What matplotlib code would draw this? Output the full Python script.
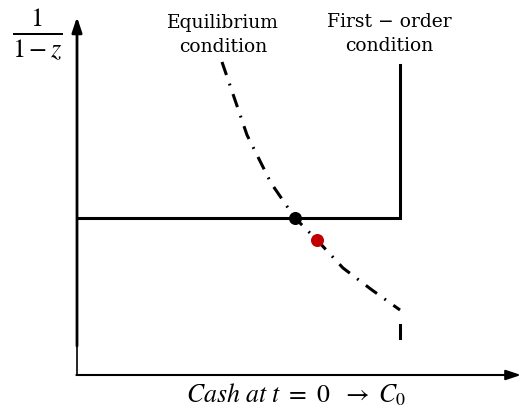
import numpy as np
import matplotlib.pyplot as plt

plt.rcParams['mathtext.fontset'] = 'stix'

# equilibrium condition curve (dash-dot)
eq_x = [145, 170, 194, 218, 240, 266, 295, 323]
eq_y = [313, 240, 192, 157, 135, 107, 85, 65]
# short dash below the curve end
tail_x = [323, 323]
tail_y = [50, 37]

# first-order condition (step)
foc_x = [0, 323, 323]
foc_y = [157, 157, 310]

# points
eq_pt = (218, 157)
red_pt = (240, 135)

fig = plt.figure(figsize=(5.22, 4.09), dpi=100)
ax = fig.add_axes([0, 0, 1, 1])
ax.set_xlim(-77, 445)
ax.set_ylim(-34, 375)
ax.axis('off')

# axes with arrows
ax.plot([0, 0], [0, 30], color='k', lw=1.2, solid_capstyle='butt')
ax.annotate('', xy=(0, 358), xytext=(0, 29),
            arrowprops=dict(arrowstyle='-|>,head_width=0.3,head_length=0.9',
                            lw=2.0, color='k', shrinkA=0, shrinkB=0))
ax.annotate('', xy=(444, 0), xytext=(-0.6, 0),
            arrowprops=dict(arrowstyle='-|>,head_width=0.3,head_length=0.9',
                            lw=1.5, color='k', shrinkA=0, shrinkB=0))

ax.plot(foc_x, foc_y, color='k', lw=2.2, solid_joinstyle='miter')
ax.plot(eq_x, eq_y, color='k', lw=2.2, dashes=(4.5, 3, 0.6, 3))
ax.plot(tail_x, tail_y, color='k', lw=2.2)

ax.scatter([eq_pt[0]], [eq_pt[1]], s=70, color='k', zorder=5)
ax.scatter([red_pt[0]], [red_pt[1]], s=70, color='#c00000', zorder=5)

ax.text(146, 340, 'Equilibrium\ncondition', ha='center', va='center',
        family='DejaVu Serif', fontsize=13.5, linespacing=1.45)
ax.text(312, 341, 'First \u2212 order\ncondition', ha='center', va='center',
        family='DejaVu Serif', fontsize=13.5, linespacing=1.45)
ax.text(-40, 340, r'$\frac{1}{1-z}$', ha='center', va='center', fontsize=27)
ax.text(219, -20, r'$Cash\ at\ t\ =\ 0\ \ \rightarrow\ C_0$', ha='center',
        va='center', fontsize=18.5)

fig.savefig('out.png', dpi=100)
